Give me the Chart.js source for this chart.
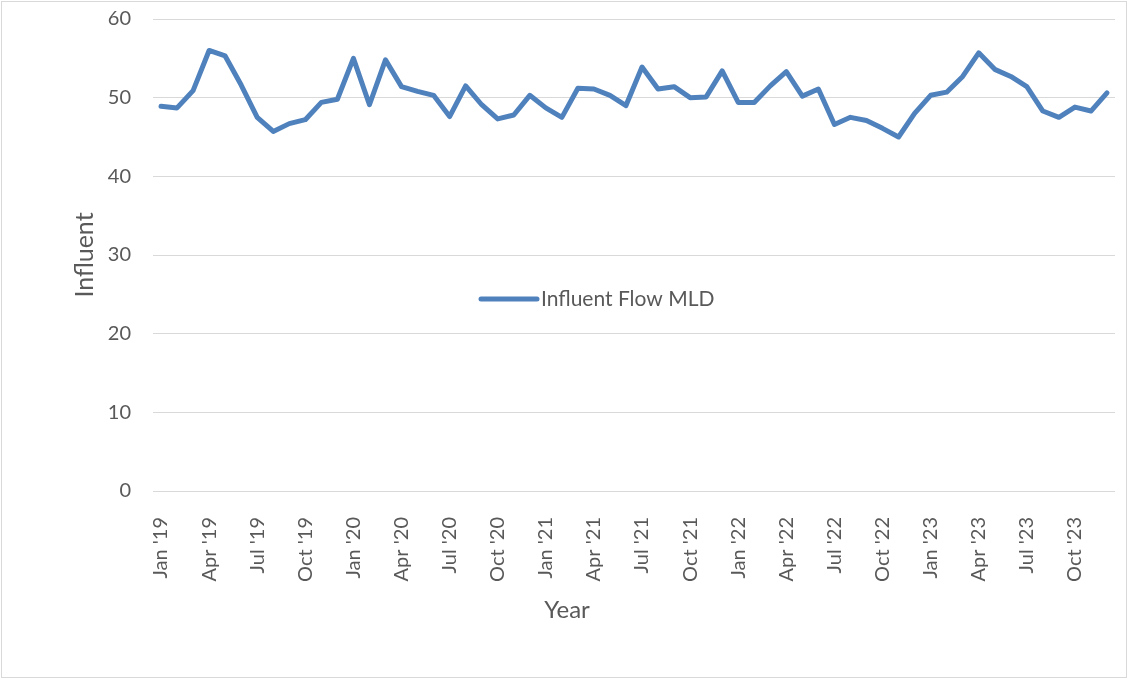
<!DOCTYPE html>
<html>
<head>
<meta charset="utf-8">
<script src="https://cdn.jsdelivr.net/npm/chart.js@4/dist/chart.umd.min.js"></script>
<style>
  html, body { margin: 0; padding: 0; background: #ffffff; }
  #wrap { width: 1128px; height: 679px; position: relative; }
</style>
</head>
<body>
<div id="wrap"><canvas id="flowChart" width="1128" height="679"></canvas></div>
<script>
// Monthly influent flow (MLD), Jan 2019 – Dec 2023
const MONTHS = ['Jan', 'Feb', 'Mar', 'Apr', 'May', 'Jun', 'Jul', 'Aug', 'Sep', 'Oct', 'Nov', 'Dec'];
const YEARS = ["'19", "'20", "'21", "'22", "'23"];

const flow2019 = [48.9, 48.7, 50.9, 56.0, 55.3, 51.6, 47.5, 45.7, 46.7, 47.2, 49.4, 49.8];
const flow2020 = [55.0, 49.1, 54.8, 51.4, 50.8, 50.3, 47.6, 51.5, 49.1, 47.3, 47.8, 50.3];
const flow2021 = [48.7, 47.5, 51.2, 51.1, 50.3, 49.0, 53.9, 51.1, 51.4, 50.0, 50.1, 53.4];
const flow2022 = [49.4, 49.4, 51.5, 53.3, 50.2, 51.1, 46.6, 47.5, 47.1, 46.1, 45.0, 48.0];
const flow2023 = [50.3, 50.7, 52.7, 55.7, 53.6, 52.7, 51.4, 48.3, 47.5, 48.8, 48.3, 50.6];

const Y_TICKS = [0, 10, 20, 30, 40, 50, 60];
const X_TITLE = 'Year';
const Y_TITLE = 'Influent';

const categories = [];
YEARS.forEach(y => MONTHS.forEach(m => categories.push(m + ' ' + y)));
const flowValues = [].concat(flow2019, flow2020, flow2021, flow2022, flow2023);

const TEXT = '#595959';
const GRID = '#d9d9d9';
const LINE = '#4F81BD';
const FONT = 'Lato, "Liberation Sans", sans-serif';

// White page with a thin frame around the whole chart
const frame = {
  id: 'frame',
  beforeDraw(chart) {
    const ctx = chart.ctx;
    ctx.save();
    ctx.fillStyle = '#ffffff';
    ctx.fillRect(0, 0, chart.width, chart.height);
    ctx.strokeStyle = GRID;
    ctx.lineWidth = 1;
    ctx.strokeRect(1.5, 1.5, chart.width - 3, chart.height - 3);
    ctx.restore();
  }
};

// Axis titles: the x title is centred on the whole chart, the y title on the plot
const axisTitles = {
  id: 'axisTitles',
  afterDraw(chart) {
    const ctx = chart.ctx;
    const area = chart.chartArea;
    ctx.save();
    ctx.fillStyle = TEXT;
    ctx.font = '24px ' + FONT;
    ctx.textAlign = 'center';
    ctx.textBaseline = 'middle';
    ctx.fillText(X_TITLE, chart.width / 2 + 3, 610);
    ctx.font = '25px ' + FONT;
    ctx.translate(85, (area.top + area.bottom) / 2);
    ctx.rotate(-Math.PI / 2);
    ctx.fillText(Y_TITLE, 0, 0);
    ctx.restore();
  }
};

// Legend entry sitting inside the plot area
const innerLegend = {
  id: 'innerLegend',
  afterDatasetsDraw(chart) {
    const ctx = chart.ctx;
    const ds = chart.data.datasets[0];
    const x0 = 481, x1 = 537, y = 299;
    ctx.save();
    ctx.strokeStyle = ds.borderColor;
    ctx.lineWidth = ds.borderWidth;
    ctx.lineCap = 'round';
    ctx.beginPath();
    ctx.moveTo(x0, y);
    ctx.lineTo(x1, y);
    ctx.stroke();
    ctx.fillStyle = TEXT;
    ctx.font = '21px ' + FONT;
    ctx.textAlign = 'left';
    ctx.textBaseline = 'middle';
    ctx.fillText(ds.label, x1 + 4, y);
    ctx.restore();
  }
};

new Chart(document.getElementById('flowChart'), {
  type: 'line',
  data: {
    labels: categories,
    datasets: [{
      label: 'Influent Flow MLD',
      data: flowValues,
      borderColor: LINE,
      backgroundColor: LINE,
      borderWidth: 5,
      borderCapStyle: 'round',
      borderJoinStyle: 'round',
      pointRadius: 0,
      tension: 0,
      fill: false
    }]
  },
  options: {
    responsive: false,
    animation: false,
    devicePixelRatio: 1,
    layout: { padding: { left: 0, top: 19, right: 13, bottom: 0 } },
    plugins: {
      legend: { display: false },
      tooltip: { enabled: false }
    },
    scales: {
      x: {
        type: 'category',
        offset: true,
        grid: { display: false },
        border: { display: false },
        ticks: {
          autoSkip: false,
          minRotation: 90,
          maxRotation: 90,
          padding: 18,
          color: TEXT,
          font: { family: FONT, size: 20 },
          callback(value, index) {
            return index % 3 === 0 ? this.getLabelForValue(value) : null;
          }
        },
        afterFit(scale) {
          scale.height = 188;
          scale.paddingLeft = 0;
          scale.paddingRight = 0;
        }
      },
      y: {
        min: 0,
        max: 60,
        afterBuildTicks(scale) { scale.ticks = Y_TICKS.map(v => ({ value: v })); },
        grid: { color: GRID, lineWidth: 1, drawTicks: false },
        border: { display: false },
        ticks: {
          padding: 22,
          color: TEXT,
          font: { family: FONT, size: 20 }
        },
        afterFit(scale) {
          scale.width = 153;
          scale.paddingTop = 0;
          scale.paddingBottom = 0;
        }
      }
    }
  },
  plugins: [frame, axisTitles, innerLegend]
});
</script>
</body>
</html>
